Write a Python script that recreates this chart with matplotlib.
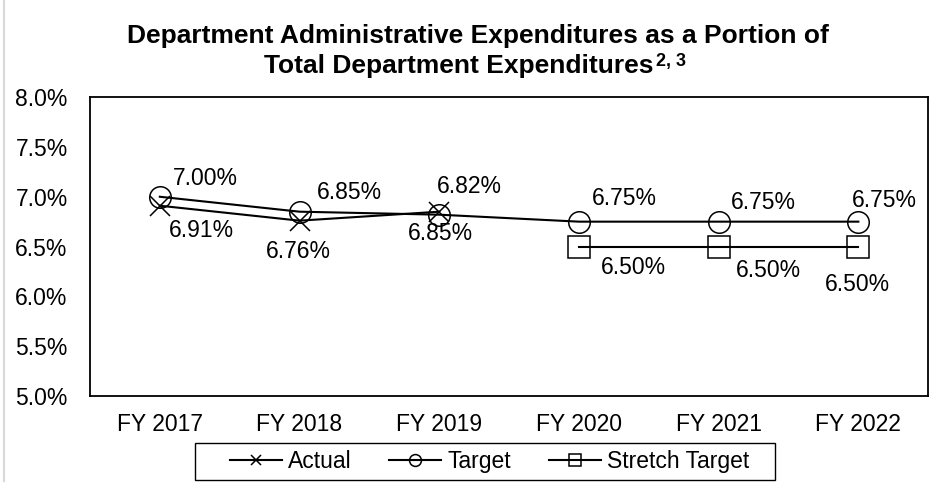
import numpy as np
import matplotlib.pyplot as plt
from matplotlib.lines import Line2D
from matplotlib.patches import Rectangle

plt.rcParams['font.family'] = ['Liberation Sans', 'DejaVu Sans']

# Данные
years = ['FY 2017', 'FY 2018', 'FY 2019', 'FY 2020', 'FY 2021', 'FY 2022']
actual = [6.91, 6.76, 6.85, np.nan, np.nan, np.nan]
target = [7.00, 6.85, 6.82, 6.75, 6.75, 6.75]
stretch = [np.nan, np.nan, np.nan, 6.50, 6.50, 6.50]

# Смещения подписей (в пунктах), как в исходнике
off_actual = [(30, -18), (-1, -22), (1, -16)]
off_target = [(33, 13), (36, 14), (22, 20), (33, 17), (32, 14), (19, 15)]
off_stretch = [(39, -15), (36, -17), (-1, -27)]

fig = plt.figure(figsize=(9.52, 4.83), dpi=100)
ax = fig.add_axes([0.0945, 0.180, 0.8805, 0.619])

x = np.arange(len(years))
fs = 16.5
lw = 1.5
ms = 15.5
mew = 1.1

ax.plot(x, actual, '-', color='black', lw=lw, marker='x', ms=14, mew=mew, label='Actual')
ax.plot(x, target, '-', color='black', lw=lw, marker='o', ms=ms, mew=mew, mfc='none', label='Target')
ax.plot(x, stretch, '-', color='black', lw=lw, marker='s', ms=ms, mew=mew, mfc='none', label='Stretch Target')

def put_labels(vals, offs):
    pts = [(i, v) for i, v in enumerate(vals) if not np.isnan(v)]
    for (i, v), (dx, dy) in zip(pts, offs):
        ax.annotate(f"{v:.2f}%", (i, v), xytext=(dx, dy), textcoords='offset points',
                    ha='center', va='center', fontsize=fs)

put_labels(target, off_target)
put_labels(actual, off_actual)
put_labels(stretch, off_stretch)

ax.set_xlim(-0.5, len(years) - 0.5)
ax.set_ylim(5.0, 8.0)
ax.set_yticks(np.arange(5.0, 8.01, 0.5))
ax.set_yticklabels([f"{t:.1f}%" for t in np.arange(5.0, 8.01, 0.5)])
ax.set_xticks(x)
ax.set_xticklabels(years)
ax.tick_params(axis='both', length=0, labelsize=fs)
ax.tick_params(axis='y', pad=16)
ax.tick_params(axis='x', pad=12)
for s in ax.spines.values():
    s.set_linewidth(1.3)

# Заголовок в две строки с верхним индексом
fig.text(0.502, 0.911, "Department Administrative Expenditures as a Portion of",
         ha='center', va='baseline', fontsize=19, fontweight='bold')
t2 = fig.text(0.686, 0.849, "Total Department Expenditures",
              ha='right', va='baseline', fontsize=19, fontweight='bold')
ax.annotate("2, 3", xy=(1, 1), xycoords=t2, xytext=(2, 1), textcoords='offset points',
            ha='left', va='top', fontsize=13, fontweight='bold', annotation_clip=False)

# легенда без рамки + рамка отдельно
leg = fig.legend(loc='center', bbox_to_anchor=(0.514, 0.0435), ncol=3, fontsize=fs,
                 frameon=False, handlelength=2.27, handletextpad=0.26,
                 columnspacing=1.65, borderpad=0.2, markerscale=0.55)
fig.add_artist(Rectangle((195 / 952, 3 / 483), 580 / 952, 37 / 483, transform=fig.transFigure,
                         fill=False, edgecolor='black', lw=1.0))

# серая линия слева (граница страницы)
fig.add_artist(Line2D([0.0045, 0.0045], [0.005, 1.0], color='#d9d9d9', lw=1.5))

fig.savefig('out.png', dpi=100)
